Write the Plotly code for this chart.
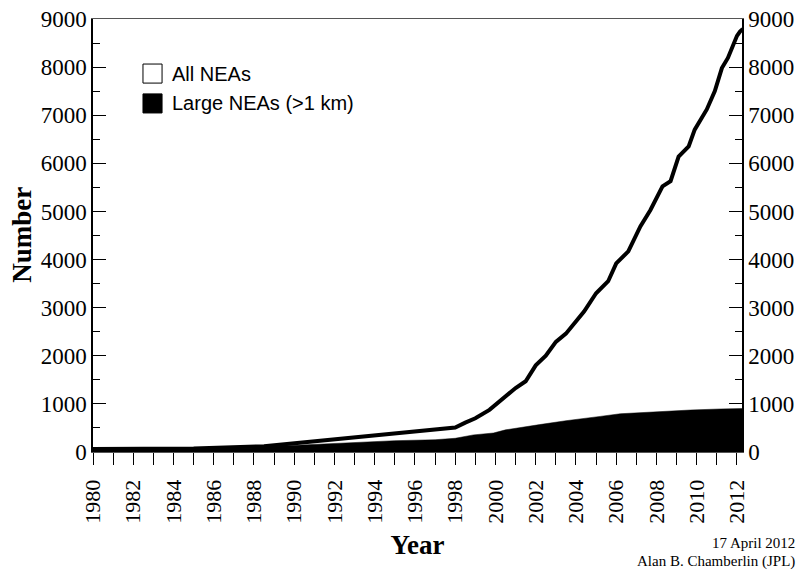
import plotly.graph_objects as go

# ---- data ----
all_years = [1980.0, 1985.0, 1988.5, 1990.0, 1991.0, 1992.0, 1993.0, 1993.8, 1995.0, 1995.9,
             1997.0, 1997.7, 1998.0, 1998.5, 1999.0, 1999.7, 2000.0, 2000.5, 2001.0, 2001.5,
             2002.0, 2002.5, 2003.0, 2003.5, 2004.0, 2004.4, 2005.0, 2005.6, 2006.0, 2006.6,
             2007.2, 2007.7, 2008.3, 2008.7, 2009.1, 2009.6, 2009.9, 2010.5, 2010.9, 2011.25,
             2011.55, 2011.8, 2012.0, 2012.15, 2012.29]
all_neas = [60, 75, 120, 180, 215, 255, 290, 325, 370, 410,
            450, 485, 510, 610, 700, 875, 980, 1180, 1330, 1470,
            1800, 2000, 2290, 2460, 2720, 2920, 3300, 3550, 3920, 4170,
            4690, 5030, 5520, 5630, 6140, 6350, 6700, 7120, 7500, 7980,
            8190, 8460, 8650, 8740, 8790]

large_years = [1980.0, 1985.0, 1985.1, 1988.4, 1988.5, 1990.0, 1992.0, 1993.0, 1995.0, 1997.0,
               1998.0, 1998.9, 1999.9, 2000.5, 2001.4, 2002.2, 2003.5, 2004.7, 2005.2, 2006.2,
               2007.7, 2009.7, 2011.2, 2012.29]
large_neas = [45, 55, 75, 85, 110, 140, 180, 200, 235, 255,
              285, 355, 395, 460, 510, 570, 650, 705, 740, 795,
              833, 873, 895, 902]

legend_labels = ["All NEAs", "Large NEAs (>1 km)"]
x_title = "Year"
y_title = "Number"
credit_lines = ["17 April 2012", "Alan B. Chamberlin (JPL)"]

SERIF = "Liberation Serif, Times New Roman, serif"
SANS = "Liberation Sans, Arial, sans-serif"

fig = go.Figure()
fig.add_trace(go.Scatter(
    x=large_years, y=large_neas, mode="lines", fill="tozeroy",
    fillcolor="black", line=dict(color="black", width=0.5),
    name=legend_labels[1], hoverinfo="x+y", yaxis="y"))
fig.add_trace(go.Scatter(
    x=all_years, y=all_neas, mode="lines",
    line=dict(color="black", width=4), name=legend_labels[0], hoverinfo="x+y", yaxis="y2"))

yaxis_common = dict(
    range=[0, 9000], dtick=1000, tick0=0, ticks="inside", ticklen=13, tickwidth=1,
    tickcolor="black", showline=True, linecolor="black", linewidth=1.5,
    showgrid=False, zeroline=False, automargin=False,
    tickfont=dict(family=SERIF, size=23, color="black"),
    minor=dict(dtick=500, ticks="inside", ticklen=7, tickcolor="black", showgrid=False),
)

fig.update_layout(
    width=809, height=572,
    margin=dict(l=93, r=67, t=19, b=120),
    paper_bgcolor="white", plot_bgcolor="white",
    showlegend=False,
    xaxis=dict(
        range=[1980, 2012.25], dtick=2, tick0=1980, ticks="outside", ticklen=12,
        tickwidth=1, tickcolor="black", tickangle=-90, automargin=False,
        ticklabelstandoff=6,
        showline=True, linecolor="#555555", linewidth=1, mirror=True,
        showgrid=False, zeroline=False,
        tickfont=dict(family=SERIF, size=22, color="black"),
        minor=dict(dtick=1, ticks="outside", ticklen=12, tickcolor="black", showgrid=False),
        title=dict(text=x_title, font=dict(family=SERIF, size=27, color="black", weight="bold"),
                   standoff=12),
    ),
    yaxis=dict(**yaxis_common),
    yaxis2=dict(**yaxis_common, overlaying="y", side="right"),
)

# y-axis title
fig.add_annotation(xref="paper", yref="paper", x=(22 - 93) / 648.7, y=(452.3 - 235) / 433.3,
                   xanchor="center", yanchor="middle", text="<b>" + y_title + "</b>",
                   textangle=-90, showarrow=False,
                   font=dict(family=SERIF, size=27, color="black"))

# legend drawn as boxes + text
fig.add_shape(type="rect", xref="paper", yref="paper", x0=0.077, x1=0.1064, y0=0.852, y1=0.896,
              line=dict(color="black", width=1), fillcolor="white")
fig.add_shape(type="rect", xref="paper", yref="paper", x0=0.077, x1=0.1064, y0=0.783, y1=0.827,
              line=dict(color="black", width=1), fillcolor="black")
fig.add_annotation(xref="paper", yref="paper", x=0.118, y=0.874, xanchor="left", yanchor="middle",
                   text=legend_labels[0], showarrow=False,
                   font=dict(family=SANS, size=20, color="black"))
fig.add_annotation(xref="paper", yref="paper", x=0.118, y=0.805, xanchor="left", yanchor="middle",
                   text=legend_labels[1], showarrow=False,
                   font=dict(family=SANS, size=20, color="black"))

# credit text
fig.add_annotation(xref="paper", yref="paper", x=(797 - 93) / 648.7, y=-(543 - 452.3) / 433.3,
                   xanchor="right", yanchor="middle", text=credit_lines[0], showarrow=False,
                   font=dict(family=SERIF, size=15, color="black"))
fig.add_annotation(xref="paper", yref="paper", x=(797 - 93) / 648.7, y=-(562 - 452.3) / 433.3,
                   xanchor="right", yanchor="middle", text=credit_lines[1], showarrow=False,
                   font=dict(family=SERIF, size=15, color="black"))

fig.write_html("out.html", config={"displayModeBar": False},
               post_script="document.body.style.margin='0';document.body.style.overflow='hidden';")
